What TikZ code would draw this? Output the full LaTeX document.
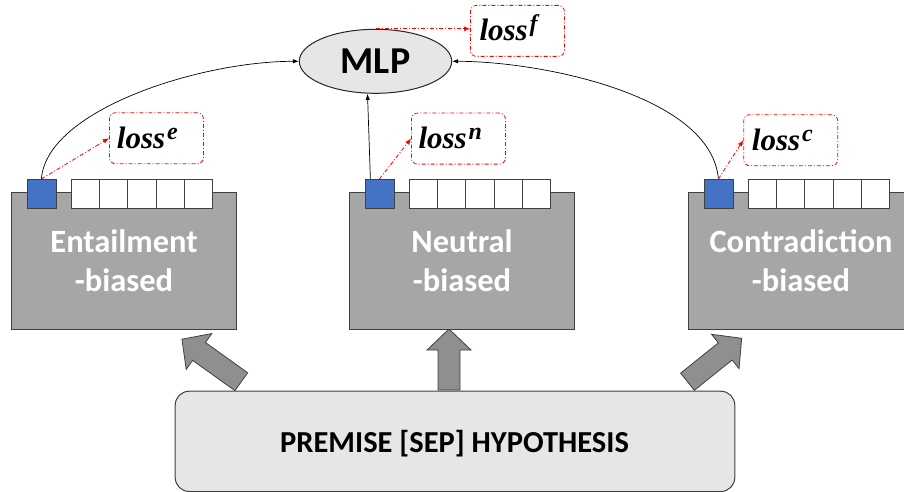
\documentclass[tikz,border=0pt]{standalone}
\usepackage{fontspec}
\setmainfont{Carlito}
\newfontfamily\lossfont{Liberation Serif}
\usetikzlibrary{shapes.geometric,arrows.meta,calc}
\definecolor{boxgray}{RGB}{166,166,166}
\definecolor{edgegray}{RGB}{64,64,64}
\definecolor{lightfill}{RGB}{231,230,230}
\definecolor{blueq}{RGB}{68,114,196}
\definecolor{lossred}{RGB}{255,0,0}
\definecolor{arrowfill}{RGB}{143,143,143}
\newcommand\lossx[1]{{\lossfont\bfseries\itshape\fontsize{31}{31}\selectfont loss\kern2pt\raisebox{9pt}{\fontsize{24}{24}\selectfont #1}}}
\newcommand\blockarr[4]{\draw[blockarrow, shift={(#1,#2)}, rotate=#3] (0,-11) -- (#4-21,-11) -- (#4-21,-22) -- (#4,0) -- (#4-21,22) -- (#4-21,11) -- (0,11) -- cycle;}
\begin{document}
\begin{tikzpicture}[x=1pt,y=-1pt,
  biasbox/.style={draw=edgegray, fill=boxgray, line width=1pt, minimum width=225pt, minimum height=137.5pt, inner sep=0pt, anchor=north west},
  biastext/.style={text=white, font=\bfseries\fontsize{32.5}{39}\selectfont, align=center},
  bluesq/.style={draw=edgegray, fill=blueq, line width=0.8pt, minimum size=29pt, inner sep=0pt, anchor=north west},
  cell/.style={draw=edgegray, fill=white, line width=0.8pt, minimum width=28.2pt, minimum height=29pt, inner sep=0pt, anchor=north west},
  lossbox/.style={draw=lossred, line width=0.8pt, dash pattern=on 4pt off 2pt on 1pt off 2pt, rounded corners=6pt, minimum width=94pt, minimum height=51pt, inner sep=0pt, anchor=north west},
  losstext/.style={anchor=base west, inner sep=0pt},
  lossarrow/.style={draw=lossred, line width=0.8pt, dash pattern=on 4pt off 2pt on 1pt off 2pt, -{Latex[length=6pt,width=5pt]}},
  feed/.style={draw=black, line width=0.7pt, -{Latex[length=6pt,width=4.5pt]}},
  blockarrow/.style={draw=edgegray, line width=0.8pt, fill=arrowfill}
]
\useasboundingbox (0,0) rectangle (904,492);

% input box
\node[draw=edgegray, fill=lightfill, line width=1pt, rounded corners=14pt, minimum width=559.6pt, minimum height=100.3pt, inner sep=0pt, anchor=north west] (inp) at (174.7,390.7) {};
\node[anchor=base, font=\bfseries\fontsize{30.5}{35}\selectfont] (inpT) at (454.5,452.7) {PREMISE [SEP] HYPOTHESIS};

% block arrows
\blockarr{241.3}{381.7}{144.4}{73}
\blockarr{449}{390}{90}{61}
\blockarr{687.5}{381.7}{38.7}{69.4}

% biased boxes
\foreach \n/\L/\t in {E/11/Entailment, N/349/Neutral, C/688/Contradiction}{
  \node[biasbox] (\n) at (\L,191.7) {};
  \node[biastext] (\n T) at (\n.center) {\t\\-biased};
  \node[bluesq] (\n b) at (\L+15.5,179) {};
  \foreach \k in {1,...,5}{
    \node[cell] (\n c\k) at (\L+60+28.2*\k-28.2,179) {};
  }
}

% MLP
\node[ellipse, draw=black!85, fill=lightfill, line width=1pt, minimum width=152.4pt, minimum height=64pt, inner sep=0pt, font=\bfseries\fontsize{38}{40}\selectfont] (MLP) at (375.5,61.3) {MLP};

% loss boxes
\node[lossbox] (lossf) at (470,5) {};
\node[losstext] (lossfT) at (479.3,40.7) {\lossx{f}};
\node[lossbox] (losse) at (109,112.3) {};
\node[losstext] (losseT) at (116.7,148.3) {\lossx{e}};
\node[lossbox] (lossn) at (411,112.7) {};
\node[losstext] (lossnT) at (418.3,148.3) {\lossx{n}};
\node[lossbox] (lossc) at (743.3,114.3) {};
\node[losstext] (losscT) at (751.7,150) {\lossx{c}};

% connectors to MLP
\draw[feed] (Eb.north) .. controls +(5,-69) and +(-99,0) .. (MLP.west);
\draw[feed] ($(Nb.north)+(-9,0)$) -- ($(MLP.south)+(-8,0)$);
\draw[feed] (Cb.north) .. controls +(-7,-84) and +(88,0) .. (MLP.east);

% loss arrows
\draw[lossarrow] (MLP.north) -- (MLP.north -| lossf.west);
\draw[lossarrow] (Eb.north) -- (losse.west);
\draw[lossarrow] (Nb.north) -- (lossn.west);
\draw[lossarrow] (Cb.north) -- (lossc.west);
\end{tikzpicture}
\end{document}
